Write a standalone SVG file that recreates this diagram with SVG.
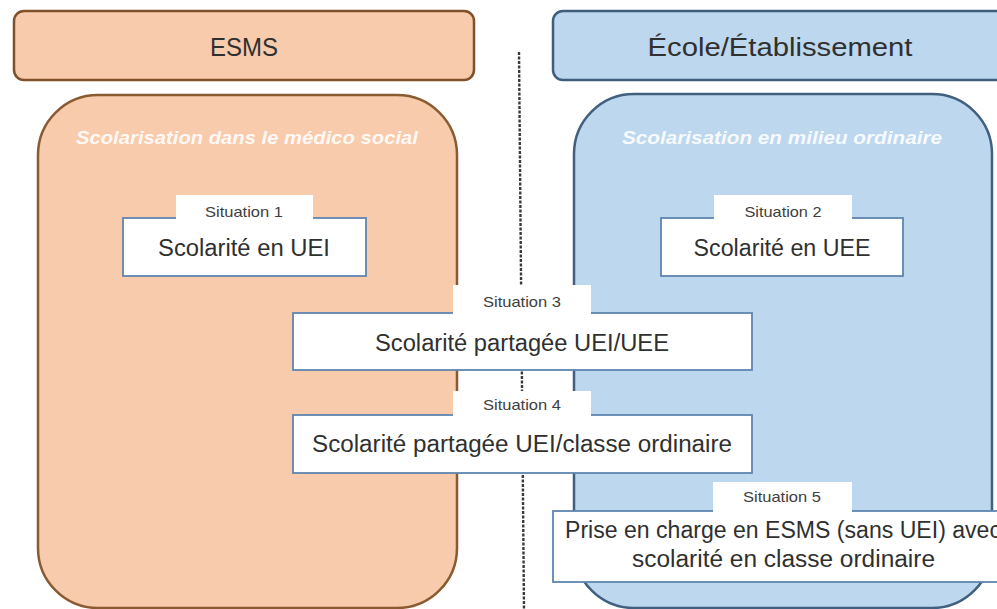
<svg xmlns="http://www.w3.org/2000/svg" width="997" height="609" viewBox="0 0 997 609">
<style>
.hdrL{fill:#F8CBAD;stroke:#80502A;stroke-width:2.5}
.hdrR{fill:#BDD7EE;stroke:#3F5E7E;stroke-width:2.5}
.bigL{fill:#F8CBAD;stroke:#8A5A30;stroke-width:2.5}
.bigR{fill:#BDD7EE;stroke:#41607F;stroke-width:2.5}
.box{fill:#FFFFFF;stroke:#5E86B0;stroke-width:1.8}
.tab{fill:#FFFFFF;stroke:none}
.t{font-family:"Liberation Sans",Arial,sans-serif;fill:#303030;text-anchor:middle}
.h{font-size:26px}
.sub{font-family:"Liberation Sans",Arial,sans-serif;font-size:18px;font-weight:bold;font-style:italic;fill:#FFFFFF;fill-opacity:0.9;text-anchor:middle}
.lab{font-size:14.5px;fill:#404040}
.main{font-size:23px}
.sep{stroke:#3A3A3A;stroke-width:2.4;stroke-dasharray:3 1.5;fill:none}
</style>

<g id="header-esms">
<rect class="hdrL" x="14" y="11" width="460" height="69" rx="10"/>
<text class="t h" x="244" y="56" textLength="68" lengthAdjust="spacingAndGlyphs">ESMS</text>
</g>
<g id="header-ecole">
<rect class="hdrR" x="553" y="11" width="470" height="69" rx="10"/>
<text class="t h" x="780" y="56" textLength="265" lengthAdjust="spacingAndGlyphs">École/Établissement</text>
</g>

<g id="zone-medico-social">
<rect class="bigL" x="38" y="95" width="419" height="513" rx="60"/>
<text class="sub" x="247" y="144" textLength="342" lengthAdjust="spacingAndGlyphs">Scolarisation dans le médico social</text>
</g>
<g id="zone-milieu-ordinaire">
<rect class="bigR" x="574" y="94" width="418" height="514" rx="60"/>
<text class="sub" x="782" y="144" textLength="320" lengthAdjust="spacingAndGlyphs">Scolarisation en milieu ordinaire</text>
</g>

<g id="separator">
<line class="sep" x1="519" y1="52" x2="524" y2="609"/>
</g>

<g id="situation-1">
<rect class="box" x="123" y="218" width="243" height="58"/>
<rect class="tab" x="176" y="195" width="137" height="24.5"/>
<text class="t lab" x="244" y="217" textLength="78" lengthAdjust="spacingAndGlyphs">Situation 1</text>
<text class="t main" x="244" y="256" textLength="172" lengthAdjust="spacingAndGlyphs">Scolarité en UEI</text>
</g>

<g id="situation-2">
<rect class="box" x="661" y="218" width="242" height="58"/>
<rect class="tab" x="714" y="195" width="138" height="24.5"/>
<text class="t lab" x="783" y="217" textLength="77" lengthAdjust="spacingAndGlyphs">Situation 2</text>
<text class="t main" x="782" y="256" textLength="177" lengthAdjust="spacingAndGlyphs">Scolarité en UEE</text>
</g>

<g id="situation-3">
<rect class="box" x="293" y="313" width="459" height="57"/>
<rect class="tab" x="453" y="285" width="138" height="29.5"/>
<text class="t lab" x="522" y="307" textLength="78" lengthAdjust="spacingAndGlyphs">Situation 3</text>
<text class="t main" x="522" y="351" textLength="294" lengthAdjust="spacingAndGlyphs">Scolarité partagée UEI/UEE</text>
</g>

<g id="situation-4">
<rect class="box" x="293" y="415" width="459" height="58"/>
<rect class="tab" x="453" y="391" width="138" height="25.5"/>
<text class="t lab" x="522" y="410" textLength="78" lengthAdjust="spacingAndGlyphs">Situation 4</text>
<text class="t main" x="522" y="452" textLength="420" lengthAdjust="spacingAndGlyphs">Scolarité partagée UEI/classe ordinaire</text>
</g>

<g id="situation-5">
<rect class="box" x="553" y="511" width="470" height="71"/>
<rect class="tab" x="713" y="482" width="139" height="30.5"/>
<text class="t lab" x="782" y="502" textLength="78" lengthAdjust="spacingAndGlyphs">Situation 5</text>
<text class="t main" x="783" y="538" textLength="436" lengthAdjust="spacingAndGlyphs">Prise en charge en ESMS (sans UEI) avec</text>
<text class="t main" x="783.5" y="567" textLength="303" lengthAdjust="spacingAndGlyphs">scolarité en classe ordinaire</text>
</g>
</svg>
